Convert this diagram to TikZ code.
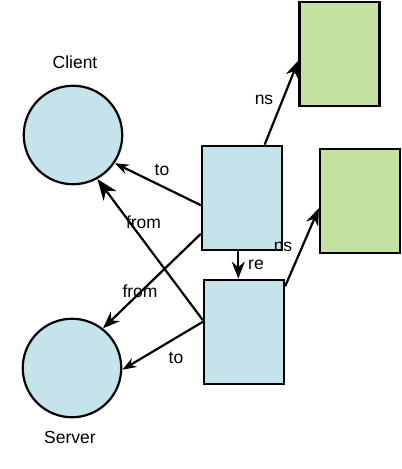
\documentclass[tikz,border=0pt]{standalone}
\usepackage{fontspec}
\setmainfont{Liberation Sans}
\usetikzlibrary{arrows.meta}
\definecolor{bluefill}{RGB}{196,227,234}
\definecolor{greenfill}{RGB}{197,225,160}
\begin{document}
\begin{tikzpicture}[x=1pt,y=-1pt,
  every node/.style={font=\fontsize{17.5}{20}\selectfont},
  box/.style={draw,line width=2.2pt,rectangle,minimum width=80pt,minimum height=104.5pt,inner sep=0pt},
  bluebox/.style={box,fill=bluefill},
  greenbox/.style={box,fill=greenfill},
  hostc/.style={draw,line width=2.2pt,circle,fill=bluefill,minimum size=98.5pt,inner sep=0pt},
  lbl/.style={inner sep=0pt},
  conn/.style={line width=2.2pt},
  tipS/.style={conn,-{Stealth[length=14pt,width=10pt,inset=4.5pt]}},
  tipM/.style={conn,-{Stealth[length=17pt,width=13pt,inset=5.5pt]}},
  tipL/.style={conn,-{Stealth[length=21pt,width=16pt,inset=6.5pt]}}]
\useasboundingbox (0,0) rectangle (402,469);
% nodes
\node[hostc] (client) at (73,135) {};
\node[hostc] (server) at (72,368) {};
\node[lbl] (clientlbl) at (75,62) {Client};
\node[lbl] (serverlbl) at (70,437) {Server};
\node[greenbox] (g1) at (339.5,54) {};
\node[greenbox] (g2) at (360,201) {};
\node[bluebox] (b1) at (242,198) {};
\node[bluebox] (b2) at (244,332) {};
% connectors
\draw[tipM] (b1.67) -- (g1.189);
\draw[tipS] (b1.190) -- (client.-34);
\draw[tipL] (b2.164) -- (client.-61);
\draw[tipM] (b1.221) -- (server.52);
\draw[tipS] (b2.166) -- (server.-2);
\draw[tipM] (b1.266) -- (b2.north -| b1.266);
\draw[tipM] (b2.48) -- (g2.190);
% labels
\node[lbl] (nsup) at (264,100) {ns};
\node[lbl] (nslow) at (283,246.5) {ns};
\node[lbl] (to1) at (162,170) {to};
\node[lbl] (from1) at (143.5,222.5) {from};
\node[lbl] (from2) at (140,291.5) {from};
\node[lbl] (to2) at (176,357.5) {to};
\node[lbl] (re) at (256,265) {re};
\end{tikzpicture}
\end{document}
